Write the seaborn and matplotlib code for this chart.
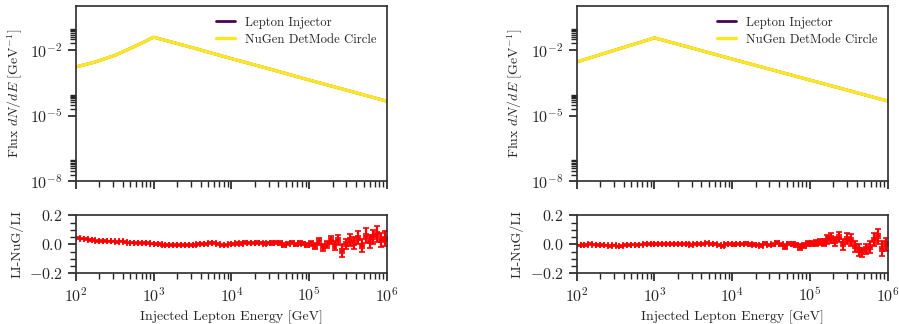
import numpy as np
import pandas as pd
import seaborn as sns
import matplotlib.pyplot as plt
from matplotlib.ticker import MultipleLocator

sns.set_theme(style='ticks')
plt.rcParams['font.family'] = ['cmr10']
plt.rcParams['mathtext.fontset'] = 'cm'
plt.rcParams['axes.formatter.use_mathtext'] = True
plt.rcParams['axes.unicode_minus'] = True

# flux curves
energy_left = [1e2, 178, 316, 562, 1e3, 3162, 1e4, 31623, 1e5, 316228, 1e6]
flux_left = [1.66e-3, 2.82e-3, 5.62e-3, 1.41e-2, 3.80e-2, 1.26e-2, 3.98e-3, 1.32e-3, 4.17e-4, 1.38e-4, 4.47e-5]
energy_right = [1e2, 316, 1e3, 3162, 1e4, 31623, 1e5, 316228, 1e6]
flux_right = [2.82e-3, 1.0e-2, 3.55e-2, 1.17e-2, 3.80e-3, 1.26e-3, 4.17e-4, 1.38e-4, 4.57e-5]

# ratio (LI-NuG)/LI per energy bin, 80 log bins 1e2..1e6
ratio_left = [0.045, 0.04, 0.035, 0.03, 0.028, 0.025, 0.025, 0.022, 0.02, 0.02,
              0.018, 0.02, 0.015, 0.012, 0.012, 0.01, 0.01, 0.008, 0.008, 0.005,
              0.002, 0.0, -0.003, -0.005, -0.004, -0.008, -0.006, -0.004, -0.002, -0.003,
              -0.004, 0.0, 0.003, 0.002, 0.01, 0.012, 0.0, -0.004, -0.008, 0.0,
              0.003, 0.006, 0.005, 0.012, 0.01, 0.008, 0.012, 0.01, 0.005, 0.01,
              0.008, 0.012, 0.01, -0.005, 0.005, 0.012, 0.0, 0.008, 0.005, -0.005,
              0.005, -0.01, 0.02, -0.02, 0.0, 0.03, -0.01, 0.03, -0.045, 0.0,
              0.03, 0.01, 0.045, -0.01, 0.06, 0.02, 0.05, 0.07, 0.03, 0.04]
err_left = [0.006] * 20 + [0.007] * 20 + [0.009] * 10 + [0.012] * 10 + \
           [0.018, 0.02, 0.022, 0.024, 0.026, 0.03, 0.032, 0.035, 0.045, 0.035,
            0.04, 0.04, 0.045, 0.045, 0.05, 0.045, 0.05, 0.055, 0.05, 0.05]
ratio_right = [-0.008, -0.005, -0.003, 0.0, -0.002, -0.005, -0.003, -0.008, -0.01, -0.008,
               -0.015, -0.01, -0.005, -0.005, -0.002, -0.004, -0.002, 0.0, 0.002, 0.0,
               0.002, 0.005, 0.004, 0.002, 0.0, 0.003, 0.005, 0.002, 0.0, -0.003,
               0.0, 0.003, 0.005, 0.008, 0.005, 0.0, -0.008, -0.01, 0.0, 0.003,
               0.0, 0.003, 0.002, 0.005, 0.0, -0.003, -0.005, -0.01, 0.005, -0.005,
               0.0, 0.012, 0.0, -0.015, 0.005, 0.0, -0.003, -0.02, -0.01, 0.005,
               0.008, 0.01, 0.015, 0.012, 0.035, 0.045, 0.02, 0.05, 0.0, 0.04,
               0.03, -0.015, -0.04, -0.055, -0.035, -0.02, 0.03, 0.055, -0.03, 0.0]
err_right = [0.006] * 20 + [0.007] * 20 + [0.009] * 10 + \
            [0.01, 0.012, 0.012, 0.02, 0.013, 0.014, 0.015, 0.02, 0.016, 0.018] + \
            [0.018, 0.02, 0.022, 0.024, 0.03, 0.035, 0.032, 0.035, 0.04, 0.035,
             0.04, 0.04, 0.04, 0.03, 0.035, 0.04, 0.045, 0.05, 0.05, 0.045]

edges = np.logspace(2, 6, 81)
centers = np.sqrt(edges[:-1] * edges[1:])
xerr = [centers - edges[:-1], edges[1:] - centers]

purple = '#440154'
yellow = '#fde725'
flux_major = [1e-8, 1e-5, 1e-2]
flux_minor = [m * s for m in flux_major for s in range(2, 10)]

fig = plt.figure(figsize=(8.99, 3.24), dpi=100)
panels = [(0.0845, energy_left, flux_left, ratio_left, err_left),
          (0.6415, energy_right, flux_right, ratio_right, err_right)]

for x0, en, fl, rat, err in panels:
    ax = fig.add_axes([x0, 0.441, 0.346, 0.54])
    axr = fig.add_axes([x0, 0.157, 0.346, 0.178], sharex=ax)
    df = pd.DataFrame({'E': en, 'flux': fl})
    sns.lineplot(data=df, x='E', y='flux', ax=ax, color=purple, lw=2, label='Lepton Injector')
    sns.lineplot(data=df, x='E', y='flux', ax=ax, color=yellow, lw=2.4, label='NuGen DetMode Circle')
    ax.set_xscale('log')
    ax.set_yscale('log')
    ax.set_xlim(1e2, 1e6)
    ax.set_ylim(1e-8, 1e0)
    ax.set_yticks(flux_major)
    ax.set_yticks(flux_minor, minor=True)
    ax.set_xlabel('')
    ax.set_ylabel(r'Flux $dN/dE$ [GeV$^{-1}$]', fontsize=10)
    ax.tick_params(labelbottom=False, labelsize=11.5)
    ax.legend(loc='upper right', frameon=False, fontsize=9.2, handlelength=1.5,
              borderaxespad=0.4, labelspacing=0.4, handletextpad=0.8)

    axr.errorbar(centers, rat, yerr=err, xerr=xerr, fmt='none', ecolor='red',
                 elinewidth=1.6, capsize=2.5, capthick=1.2)
    axr.set_ylim(-0.2, 0.2)
    axr.set_yticks([-0.2, 0.0, 0.2])
    axr.yaxis.set_minor_locator(MultipleLocator(0.05))
    axr.set_ylabel('LI-NuG/LI', fontsize=10)
    axr.set_xlabel('Injected Lepton Energy [GeV]', fontsize=10)
    axr.tick_params(labelsize=11.5)
    axr.yaxis.set_major_formatter(plt.FuncFormatter(lambda v, p: '$%.1f$' % v if abs(v) > 1e-9 else '$0.0$'))
    for a in (ax, axr):
        for s in a.spines.values():
            s.set_color('#333333')

fig.savefig('out.png', dpi=100)
